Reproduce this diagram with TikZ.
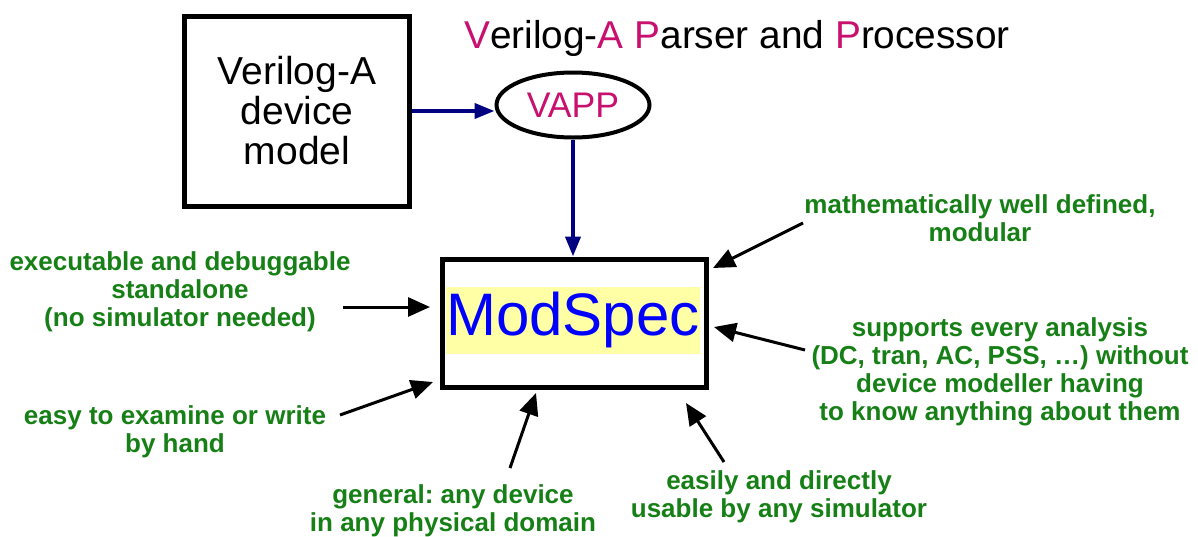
\documentclass[tikz,border=0pt]{standalone}
\usepackage{fontspec}
\setmainfont{Liberation Sans}
\usetikzlibrary{arrows.meta,shapes.geometric}
\definecolor{vamag}{RGB}{200,16,110}
\definecolor{notegreen}{RGB}{22,128,22}
\definecolor{flowblue}{RGB}{0,0,128}
\definecolor{hilite}{RGB}{255,255,165}
\frenchspacing
\begin{document}
\begin{tikzpicture}[x=0.5pt, y=-0.5pt,
  note/.style={font=\fontsize{13}{14}\selectfont\bfseries, text=notegreen, align=center, inner sep=0pt},
  pointer/.style={-{Triangle[length=11pt,width=9.5pt]}, line width=1.5pt},
  flow/.style={-{Triangle[length=10pt,width=7.5pt]}, line width=2pt, draw=flowblue}]
\useasboundingbox (0,0) rectangle (1198,536);
% source model and parser
\node[draw, line width=2.5pt, minimum width=112.5pt, minimum height=95pt, align=center,
      font=\fontsize{19.5}{20}\selectfont] (model) at (297,111) {Verilog-A\\device\\model};
\node[font=\fontsize{19.4}{22}\selectfont] (title) at (737,38)
  {\textcolor{vamag}{V}erilog-\textcolor{vamag}{A} \textcolor{vamag}{P}arser and \textcolor{vamag}{P}rocessor};
\node[ellipse, draw, line width=2pt, minimum width=76.5pt, minimum height=32.5pt, inner sep=0pt,
      font=\fontsize{17.8}{20}\selectfont, text=vamag] (vapp) at (573,105) {VAPP};
% ModSpec box with highlighted name
\node[fill=hilite, minimum width=126.5pt, minimum height=33.5pt, inner sep=0pt,
      font=\fontsize{30}{32}\selectfont, text=blue] (name) at (573,320) {ModSpec};
\node[draw, line width=2.5pt, minimum width=132pt, minimum height=64pt] (modspec) at (574,323) {};
\draw[flow] (model.east) -- (model.east -| vapp.west);
\draw[flow] (vapp.south) -- (vapp.south |- modspec.north);
% properties
\node[note] (exec) at (180,292) {executable and debuggable\\standalone\\(no simulator needed)};
\node[note] (hand) at (175,432) {easy to examine or write\\by hand};
\node[note] (general) at (453,511) {general: any device\\in any physical domain};
\node[note] (usable) at (779,497) {easily and directly\\usable by any simulator};
\node[note] (math) at (980,218) {mathematically well defined,\\modular};
\node[note] (every) at (1000,372) {supports every analysis\\(DC, tran, AC, PSS, …) without\\device modeller having\\to know anything about them};
\coordinate (exec-t) at (343,307);  \coordinate (exec-h) at (430,307);
\coordinate (hand-t) at (340,415);  \coordinate (hand-h) at (433,382);
\coordinate (gen-t) at (510,468);   \coordinate (gen-h) at (536,393);
\coordinate (use-t) at (724,462);   \coordinate (use-h) at (686,403);
\coordinate (math-t) at (803,223);  \coordinate (math-h) at (713,268);
\coordinate (every-t) at (805,350); \coordinate (every-h) at (714,327);
\draw[pointer] (exec-t) -- (exec-h);
\draw[pointer] (hand-t) -- (hand-h);
\draw[pointer] (gen-t) -- (gen-h);
\draw[pointer] (use-t) -- (use-h);
\draw[pointer] (math-t) -- (math-h);
\draw[pointer] (every-t) -- (every-h);
\end{tikzpicture}
\end{document}
